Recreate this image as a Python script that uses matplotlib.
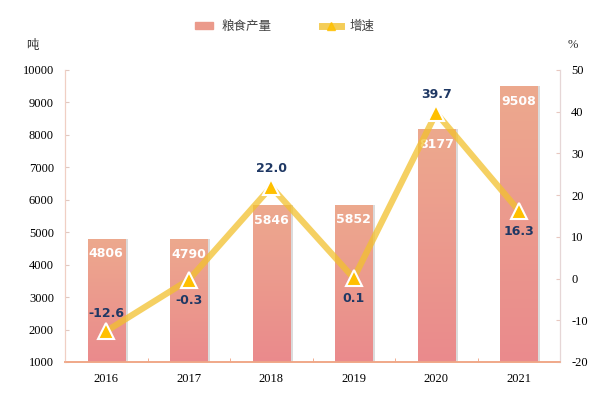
import matplotlib
matplotlib.use("Agg")
import matplotlib.pyplot as plt
import numpy as np
from matplotlib.lines import Line2D
from matplotlib.patches import Patch
from matplotlib.colors import LinearSegmentedColormap

years = ["2016", "2017", "2018", "2019", "2020", "2021"]
output = [4806, 4790, 5846, 5852, 8177, 9508]
growth = [-12.6, -0.3, 22.0, 0.1, 39.7, 16.3]
growth_below = [False, True, False, True, False, True]
left_ticks = [1000, 2000, 3000, 4000, 5000, 6000, 7000, 8000, 9000, 10000]
right_ticks = [-20, -10, 0, 10, 20, 30, 40, 50]

plt.rcParams['font.family'] = ['Liberation Serif', 'Noto Sans CJK SC', 'DejaVu Sans']
plt.rcParams['axes.unicode_minus'] = False

fig = plt.figure(figsize=(6.05, 3.96), dpi=100)
ax = fig.add_axes([65/605, 1-362/396, 495/605, 292/396])
ax2 = ax.twinx()

x = np.arange(len(years))
bw = 0.45

grad = np.linspace(0, 1, 256).reshape(-1, 1)
cmap = LinearSegmentedColormap.from_list("g", ["#EA8A8C", "#EDA98E"])

for xi, v in zip(x, output):
    ax.bar(xi + 0.035, v - 1000, bw, bottom=1000, color="#9a9a9a", alpha=0.35, zorder=1, linewidth=0)
    b = ax.bar(xi, v - 1000, bw, bottom=1000, color="#EB9A8B", zorder=2, linewidth=0)[0]
    im = ax.imshow(grad, extent=[xi - bw/2, xi + bw/2, 1000, v], origin="lower",
                   aspect="auto", cmap=cmap, zorder=3)
    im.set_clip_path(b)
    ax.annotate(str(v), (xi, v), xytext=(0, -11), textcoords="offset points",
                ha="center", va="center", color="white", fontsize=9, fontweight="bold",
                family="DejaVu Sans", zorder=5)
ax.set_xlim(-0.5, len(years) - 0.5)
ax.set_ylim(1000, 10000)
ax2.set_ylim(-20, 50)

ax2.plot(x, growth, color="#F2C12E", alpha=0.75, lw=4.5, solid_capstyle="round", zorder=3)
ax2.plot(x, growth, ls="none", marker="^", ms=12, mfc="#FFC000", mec="white", mew=1.5, zorder=4)
for xi, g, below in zip(x, growth, growth_below):
    ax2.annotate(f"{g:.1f}", (xi, g), xytext=(0, -15 if below else 13), textcoords="offset points",
                 ha="center", va="center", color="#1F3864", fontsize=9, fontweight="bold",
                 family="DejaVu Sans", zorder=5)

ax.set_xticks(x)
ax.set_xticklabels(years)
ax.set_xticks(np.arange(-0.5, len(years), 1), minor=True)
ax.tick_params(axis="x", which="major", length=0, labelsize=9, pad=8)
ax.tick_params(axis="x", which="minor", length=3, direction="in", color="#F0A080")
ax.set_yticks(left_ticks)
ax.tick_params(axis="y", length=3, direction="in", color="#E0C8C0", labelsize=9, pad=8)
ax2.set_yticks(right_ticks)
ax2.tick_params(axis="y", length=3, direction="in", color="#E8C8C0", labelsize=9, pad=8)

for a in (ax, ax2):
    a.spines["top"].set_visible(False)
    a.spines["left"].set_color("#F0CFC4")
    a.spines["right"].set_color("#E6D6D6")
    a.spines["bottom"].set_color("#F0A888")
    a.spines["bottom"].set_linewidth(1.2)

fig.text(32/605, 1-45/396, "吨", ha="center", va="center", fontsize=9, family="Noto Sans CJK SC", color="#333333")
fig.text(573/605, 1-45/396, "%", ha="center", va="center", fontsize=9, color="#333333")

handles = [Patch(color="#EB9A8B"),
           Line2D([0], [0], color="#F2C12E", alpha=0.8, lw=5, marker="^", ms=6, mfc="#FFC000", mec="#FFC000")]
leg = fig.legend(handles, ["粮食产量", "增速"], ncol=2, frameon=False, loc="center",
                 bbox_to_anchor=(284.5/605, 1-26/396), columnspacing=4.0, handlelength=1.5,
                 handletextpad=0.7, handleheight=0.5,
                 prop={"family": "Noto Sans CJK SC", "size": 9})
for t in leg.get_texts():
    t.set_color("#404040")

fig.savefig("out.png", dpi=100)
